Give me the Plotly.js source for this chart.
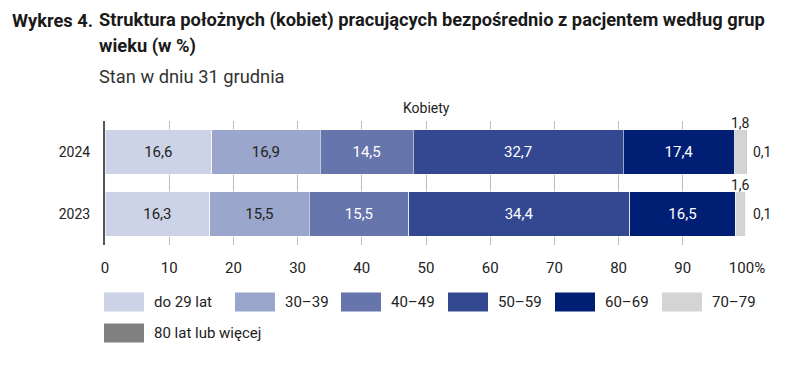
<!DOCTYPE html>
<html>
<head>
<meta charset="utf-8">
<script src="https://cdn.plot.ly/plotly-3.0.1.min.js"></script>
<style>
html,body{margin:0;padding:0;background:#fff;}
#chart{width:790px;height:366px;}
#err{position:absolute;left:0;top:0;color:red;font:10px sans-serif;}
</style>
</head>
<body>
<div id="chart"></div>
<div id="err"></div>
<script>
window.onerror = function(m){ document.getElementById('err').textContent += ' ' + m; };
// ---- data ----
const years = ['2024', '2023'];
const groups = ['do 29 lat', '30–39', '40–49', '50–59', '60–69', '70–79', '80 lat lub więcej'];
const v_do29 = [16.6, 16.3];
const v_30_39 = [16.9, 15.5];
const v_40_49 = [14.5, 15.5];
const v_50_59 = [32.7, 34.4];
const v_60_69 = [17.4, 16.5];
const v_70_79 = [1.8, 1.6];
const v_80plus = [0.1, 0.1];
const tickVals = [0, 10, 20, 30, 40, 50, 60, 70, 80, 90, 100];
const tickText = ['0', '10', '20', '30', '40', '50', '60', '70', '80', '90', '100%'];

// ---- styles ----
const FONT = 'Roboto, "DejaVu Sans", sans-serif';
const colors = ['#cdd3e6', '#9aa6cc', '#6675ac', '#344891', '#001e73', '#d4d4d4', '#808080'];
const textColors = ['#222222', '#222222', '#ffffff', '#ffffff', '#ffffff', '#222222', '#222222'];
const series = [v_do29, v_30_39, v_40_49, v_50_59, v_60_69, v_70_79, v_80plus];

const traces = series.map((vals, i) => {
  const t = {
    type: 'bar',
    orientation: 'h',
    name: groups[i],
    y: years,
    x: vals,
    marker: {color: colors[i], line: {color: '#ffffff', width: 0.6}},
    hoverinfo: 'skip',
    showlegend: false
  };
  if (i < 5) {
    t.text = vals.map(v => v.toFixed(1).replace('.', ','));
    t.textposition = 'inside';
    t.insidetextanchor = 'middle';
    t.textfont = {family: FONT, size: 15, color: textColors[i]};
  } else {
    t.textposition = 'none';
  }
  return t;
});

// plot area in px
const L = 105, R = 747, T = 121, B = 245, W = 790, H = 366;
const px = x => (x - L) / (R - L);
const py = y => (B - y) / (B - T);

const annotations = [];
// small-segment labels from data
years.forEach((yr, k) => {
  let cum = 0;
  for (let i = 0; i < 6; i++) cum += series[i][k];
  annotations.push({x: cum, y: k, xref: 'x', yref: 'y', text: series[5][k].toFixed(1).replace('.', ','),
    showarrow: false, xanchor: 'right', yanchor: 'bottom', yshift: 19, xshift: 6,
    font: {family: FONT, size: 14, color: '#222'}});
  annotations.push({x: 100, y: k, xref: 'x', yref: 'y', text: series[6][k].toFixed(1).replace('.', ','),
    showarrow: false, xanchor: 'left', xshift: 4,
    font: {family: FONT, size: 14, color: '#222'}});
});

// titles
const TF = 18.3;
annotations.push({xref: 'paper', yref: 'paper', x: px(10), y: py(20), xanchor: 'left', yanchor: 'middle',
  text: '<b>Wykres 4.</b>', showarrow: false, font: {family: FONT, size: TF, color: '#1a1a1a'}});
annotations.push({xref: 'paper', yref: 'paper', x: px(97), y: py(20), xanchor: 'left', yanchor: 'middle',
  text: '<b>Struktura położnych (kobiet) pracujących bezpośrednio z pacjentem według grup</b>', showarrow: false, font: {family: FONT, size: TF, color: '#1a1a1a'}});
annotations.push({xref: 'paper', yref: 'paper', x: px(97), y: py(46), xanchor: 'left', yanchor: 'middle',
  text: '<b>wieku (w %)</b>', showarrow: false, font: {family: FONT, size: TF, color: '#1a1a1a'}});
annotations.push({xref: 'paper', yref: 'paper', x: px(97), y: py(76), xanchor: 'left', yanchor: 'middle',
  text: 'Stan w dniu 31 grudnia', showarrow: false, font: {family: FONT, size: TF, color: '#333'}});
annotations.push({xref: 'paper', yref: 'paper', x: 0.5, y: py(108), xanchor: 'center', yanchor: 'middle',
  text: 'Kobiety', showarrow: false, font: {family: FONT, size: 14, color: '#222'}});

// custom legend
const legX = [104, 235, 341, 448, 555, 662, 104];
const legY = [302, 302, 302, 302, 302, 302, 333];
const shapes = [];
groups.forEach((g, i) => {
  shapes.push({type: 'rect', xref: 'paper', yref: 'paper', x0: px(legX[i]), x1: px(legX[i] + 40),
    y0: py(legY[i] - 9.5), y1: py(legY[i] + 9.5), fillcolor: colors[i], line: {width: 0}});
  annotations.push({xref: 'paper', yref: 'paper', x: px(legX[i] + 48), y: py(legY[i]), xanchor: 'left', yanchor: 'middle',
    text: g, showarrow: false, font: {family: FONT, size: 15, color: '#222'}});
});

const layout = {
  width: W, height: H,
  margin: {l: L, r: W - R, t: T, b: H - B, pad: 0},
  barmode: 'stack',
  bargap: 0.29,
  paper_bgcolor: '#fff', plot_bgcolor: '#fff',
  font: {family: FONT, size: 14, color: '#222'},
  xaxis: {range: [0, 100], tickmode: 'array', tickvals: tickVals, ticktext: tickText, showgrid: true, gridcolor: '#bdbdbd', gridwidth: 1,
    zeroline: false, showline: false, ticks: 'outside', ticklen: 9, tickcolor: 'rgba(0,0,0,0)',
    tickfont: {family: FONT, size: 15, color: '#222'}, fixedrange: true},
  yaxis: {type: 'category', categoryorder: 'array', categoryarray: years, range: [1.5, -0.5], autorange: false,
    showline: true, linecolor: '#555', linewidth: 2, ticks: 'outside', ticklen: 10, tickcolor: 'rgba(0,0,0,0)',
    tickfont: {family: FONT, size: 14, color: '#222'}, showgrid: false, zeroline: false, fixedrange: true},
  annotations: annotations,
  shapes: shapes,
  showlegend: false
};

Plotly.newPlot('chart', traces, layout, {displayModeBar: false, staticPlot: true}).catch(e => {
  document.getElementById('err').textContent += ' ' + e;
});
</script>
</body>
</html>
